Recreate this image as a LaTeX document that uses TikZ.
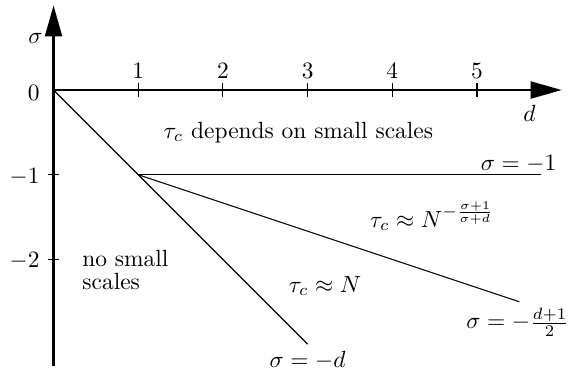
\documentclass[tikz,border=0pt]{standalone}
\usetikzlibrary{arrows.meta}
\begin{document}
\begin{tikzpicture}[x=1.5cm,y=1.5cm,
  axis/.style={line width=1.2pt,-{Triangle[length=5.5mm,width=3mm]}},
  bound/.style={line width=0.55pt},
  tickmark/.style={line width=0.55pt},
  lbl/.style={inner sep=0pt,scale=1.18}]
\useasboundingbox (-0.632,-3.353) rectangle (6.074,1.063);
% axes
\coordinate (O) at (0,0);
\coordinate (xend) at (6.0,0);
\coordinate (yend) at (0,1.0);
\coordinate (ybot) at (0,-3.26);
\draw[axis] (ybot) -- (yend);
\draw[axis] (O) -- (xend);
% ticks
\foreach \i in {1,...,5} {
  \draw[tickmark] (\i,0.08) -- (\i,-0.08);
  \node[lbl] (tx\i) at (\i,0.22) {$\i$};
}
\foreach \j in {-1,-2} {
  \draw[tickmark] (-0.07,\j) -- (0.07,\j);
}
\node[lbl,anchor=east] (ty0) at (-0.16,-0.03) {$0$};
\node[lbl,anchor=east] (tym1) at (-0.16,-1.02) {$-1$};
\node[lbl,anchor=east] (tym2) at (-0.16,-2.02) {$-2$};
\node[lbl,anchor=east] (sig) at (-0.125,0.61) {$\sigma$};
\node[lbl] (dl) at (5.62,-0.27) {$d$};
% boundaries
\coordinate (P) at (1,-1);
\coordinate (A) at (3,-3);
\coordinate (B) at (5.75,-1);
\coordinate (C) at (5.5,-2.5);
\draw[bound] (O) -- (A);
\draw[bound] (P) -- (B);
\draw[bound] (P) -- (C);
% region labels
\node[lbl,anchor=base] (r1) at (2.89,-0.567) {$\tau_c$ depends on small scales};
\node[lbl,anchor=base] (l1) at (5.49,-0.945) {$\sigma=-1$};
\node[lbl,anchor=base] (r2) at (4.47,-1.617) {$\tau_c\approx N^{-\frac{\sigma+1}{\sigma+d}}$};
\node[lbl,anchor=base] (r3) at (3.205,-2.39) {$\tau_c\approx N$};
\node[lbl,anchor=base] (l2) at (3.0,-3.28) {$\sigma=-d$};
\node[lbl,anchor=base] (l3) at (5.48,-2.82) {$\sigma=-\frac{d+1}{2}$};
\node[lbl,anchor=base west,align=left] (r4) at (0.336,-2.35) {no small\\[-2.4pt]scales};
\end{tikzpicture}
\end{document}
